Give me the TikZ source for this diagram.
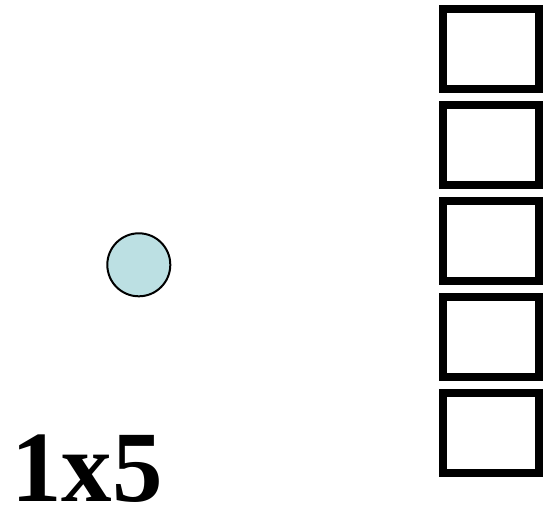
\documentclass[tikz,border=0pt]{standalone}
\usepackage{fontspec}
\setmainfont{Liberation Serif}
\definecolor{CellFill}{RGB}{188,224,227}
\begin{document}
\begin{tikzpicture}[
  x=1pt, y=-1pt,
  cell/.style={draw, line width=8pt, minimum width=96pt, minimum height=80pt, inner sep=0pt},
  dot/.style={circle, draw, line width=2pt, fill=CellFill, minimum size=63pt, inner sep=0pt},
  dimlabel/.style={font=\fontsize{101}{101}\selectfont\bfseries, inner sep=0pt, text depth=0pt, anchor=base west}
]
\useasboundingbox (0,0) rectangle (552,519);
% column of cells
\foreach \i in {1,...,5} {
  \node[cell] (cell\i) at (491.3, {48.8+96*(\i-1)}) {};
}
% single input
\node[dot] (input) at (138.8,264.8) {};
% size label
\node[dimlabel] (size) at (11,501) {1x5};
\end{tikzpicture}
\end{document}
